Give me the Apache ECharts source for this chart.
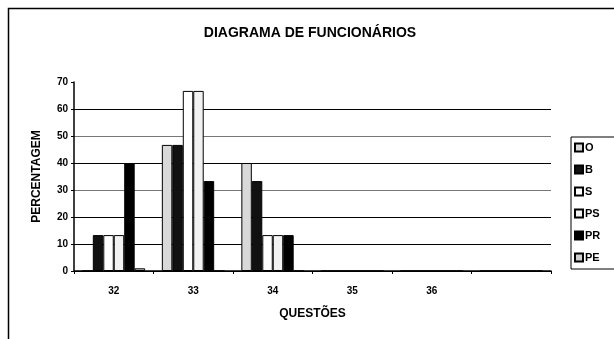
<!DOCTYPE html>
<html>
<head>
<meta charset="utf-8">
<script src="https://cdn.jsdelivr.net/npm/echarts@6/dist/echarts.min.js"></script>
<style>
  html, body { margin: 0; padding: 0; background: #fff; }
  #chart { width: 614px; height: 339px; }
</style>
</head>
<body>
<div id="chart"></div>
<script>
// questions on the x axis (last slot is empty in the original)
var questoes = ['32', '33', '34', '35', '36', ''];
var serieO  = [0, 46.7, 40, 0, 0, 0];
var serieB  = [13.3, 46.7, 33.3, 0, 0, 0];
var serieS  = [13.3, 66.7, 13.3, 0, 0, 0];
var seriePS = [13.3, 66.7, 13.3, 0, 0, 0];
var seriePR = [40, 33.3, 13.3, 0, 0, 0];
var seriePE = [1, 0, 0, 0, 0, 0];
var yTicks = [0, 10, 20, 30, 40, 50, 60, 70];

var font = 'Liberation Sans, Arial, sans-serif';

function bar(name, data, fill) {
  return {
    name: name,
    type: 'bar',
    data: data,
    barGap: 0,
    barCategoryGap: '21%',
    itemStyle: { color: fill, borderColor: '#000', borderWidth: 1 }
  };
}

var chart = echarts.init(document.getElementById('chart'));
chart.setOption({
  animation: false,
  backgroundColor: '#fff',
  title: {
    text: 'DIAGRAMA DE FUNCIONÁRIOS',
    left: 305, textAlign: 'center', top: 21,
    textStyle: { fontFamily: font, fontSize: 14, fontWeight: 'bold', color: '#000' }
  },
  graphic: [{
    type: 'rect',
    shape: { x: 8.5, y: 8.5, width: 640, height: 360 },
    style: { fill: null, stroke: '#000', lineWidth: 1.5 },
    silent: true
  }],
  legend: {
    orient: 'vertical',
    left: 571, top: 137,
    icon: 'rect',
    itemWidth: 8, itemHeight: 8, itemGap: 11,
    padding: [5, 18, 6, 3],
    borderColor: '#000', borderWidth: 1,
    textStyle: { fontFamily: font, fontSize: 11, fontWeight: 'bold', color: '#000', padding: [0, 0, 0, -3] }
  },
  grid: { left: 74, right: 63, top: 82, bottom: 68 },
  xAxis: {
    type: 'category',
    data: questoes,
    name: 'QUESTÕES',
    nameLocation: 'middle',
    nameGap: 37,
    nameTextStyle: { fontFamily: font, fontSize: 12, fontWeight: 'bold', color: '#000' },
    axisLine: { lineStyle: { color: '#000', width: 1.5 } },
    axisTick: { show: true, length: 3, inside: false, lineStyle: { color: '#000' } },
    axisLabel: { fontFamily: font, fontSize: 10, fontWeight: 'bold', color: '#000', margin: 15 }
  },
  yAxis: {
    type: 'value',
    min: 0, max: 70, interval: 10,
    name: 'PERCENTAGEM',
    nameLocation: 'middle',
    nameGap: 31,
    nameTextStyle: { fontFamily: font, fontSize: 12, fontWeight: 'bold', color: '#000' },
    axisLine: { show: true, lineStyle: { color: '#000', width: 1.5 } },
    axisTick: { show: true, length: 3, lineStyle: { color: '#000' } },
    axisLabel: {
      fontFamily: font, fontSize: 10, fontWeight: 'bold', color: '#000', margin: 6,
      formatter: function (v) { return yTicks.indexOf(v) >= 0 ? String(v) : ''; }
    },
    splitLine: {
      show: true,
      showMaxLine: false,
      lineStyle: { color: ['#000', '#000', '#000', '#777', '#000', '#777', '#000', '#fff'], width: 1.2 }
    }
  },
  series: [
    bar('O', serieO, '#d9d9d9'),
    bar('B', serieB, '#111'),
    bar('S', serieS, '#fff'),
    bar('PS', seriePS, '#f2f2f2'),
    bar('PR', seriePR, '#000'),
    bar('PE', seriePE, '#cfcfcf')
  ]
});
</script>
</body>
</html>
